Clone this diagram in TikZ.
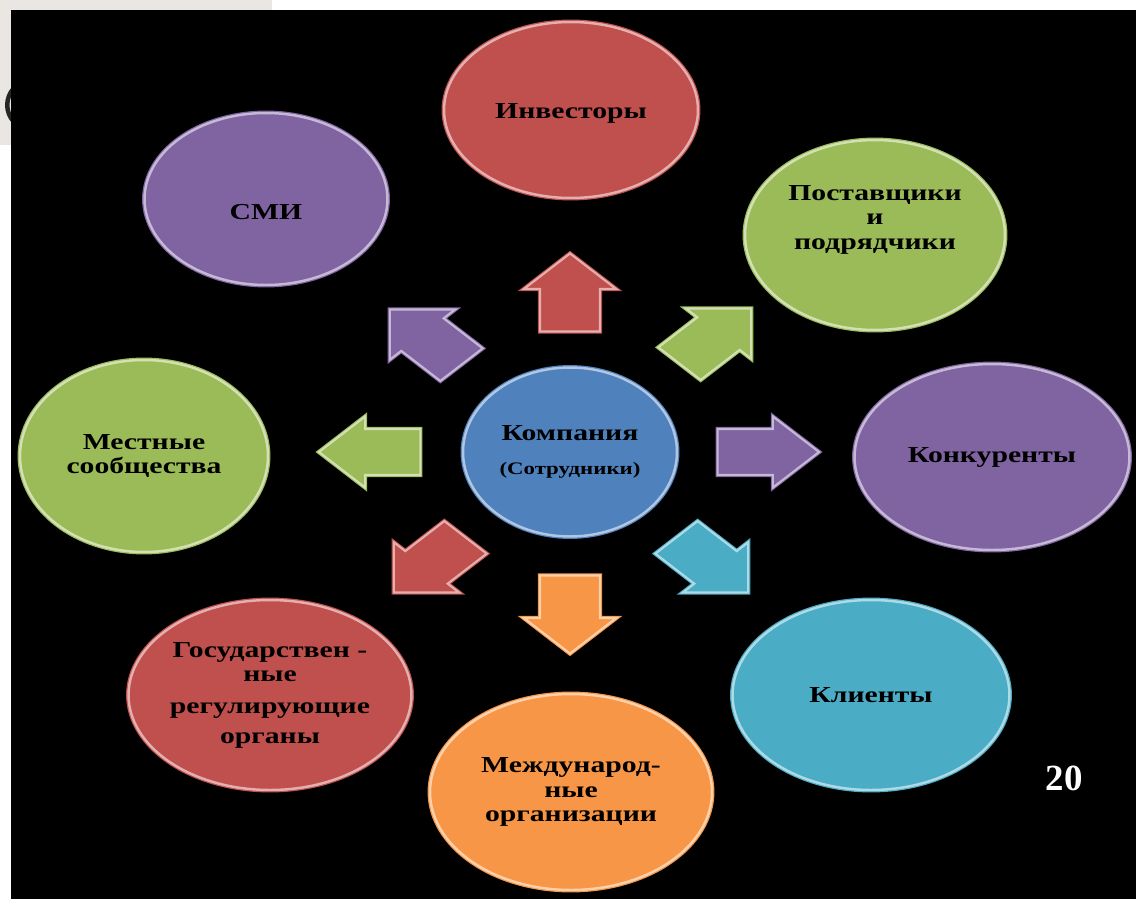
\documentclass[tikz,border=0pt]{standalone}
\usepackage{fontspec}
\usepackage{tikz}
\usetikzlibrary{shapes.geometric,shapes.arrows}
\newfontfamily\lbl{Liberation Serif}[FakeStretch=1.3]
\newfontfamily\numfont{Liberation Serif}
\definecolor{redA}{HTML}{C0504D}
\definecolor{greenA}{HTML}{9BBB59}
\definecolor{purpleA}{HTML}{8064A2}
\definecolor{cyanA}{HTML}{4BACC6}
\definecolor{orangeA}{HTML}{F79646}
\definecolor{blueA}{HTML}{4F81BD}
\definecolor{slidegray}{HTML}{EAE6E2}

\begin{document}
\begin{tikzpicture}[x=0.02cm,y=-0.02cm]
  \tikzset{bubble/.style={ellipse, fill=#1, draw=#1, double=#1!45!white, double distance=1.4pt,
      line width=0.7pt, inner sep=0pt, align=center, text=black,
      font=\lbl\bfseries\fontsize{13}{14}\selectfont},
    flowarrow/.style={single arrow, fill=#1, draw=#1, double=#1!45!white, double distance=1.2pt,
      line width=0.6pt, inner xsep=0pt, inner ysep=0.45cm, minimum height=1.56cm, minimum width=1.4cm,
      single arrow head extend=0.25cm, anchor=tail, xscale=1.3}}
  \useasboundingbox (0,0) rectangle (1136,899);
  \fill[white] (0,0) rectangle (1136,899);
  \fill[slidegray] (0,0) rectangle (272,145);
  \draw[black!85, line width=0.09cm] (14,88) .. controls (5,98) and (5,112) .. (14,122);
  \fill[black] (11,10) rectangle (1136,899);
  \node[bubble=redA, minimum width=5.08cm, minimum height=3.52cm, text height=12pt] (investors) at (571,110) {Инвесторы};
  \node[bubble=greenA, minimum width=5.2cm, minimum height=3.8cm, text depth=20pt] (suppliers) at (875,235) {Поставщики\\и\\подрядчики};
  \node[bubble=purpleA, minimum width=5.5cm, minimum height=3.72cm] (rivals) at (992,457) {Конкуренты};
  \node[bubble=cyanA, minimum width=5.54cm, minimum height=3.8cm] (clients) at (871,695) {Клиенты};
  \node[bubble=orangeA, minimum width=5.64cm, minimum height=3.92cm] (intl) at (571,792) {Международ-\\ные\\организации};
  \node[bubble=redA, minimum width=5.6cm, minimum height=3.8cm] (government) at (270,695) {Государствен -\\ные\\[4pt]регулирующие\\[3pt]органы};
  \node[bubble=greenA, minimum width=4.96cm, minimum height=3.84cm] (locals) at (144,456) {Местные\\сообщества};
  \node[bubble=purpleA, minimum width=4.86cm, minimum height=3.44cm, text height=24pt] (media) at (266,199) {СМИ};
  \node[bubble=blueA, minimum width=4.28cm, minimum height=3.38cm] (company) at (570,452)
    {Компания\\[5pt]{\fontsize{10}{12}\selectfont(Сотрудники)}};
  \node[flowarrow=redA, rotate=90] (toInvestors) at (570,332) {};
  \node[flowarrow=greenA, rotate=45] (toSuppliers) at (679,364) {};
  \node[flowarrow=purpleA, rotate=0] (toRivals) at (717,452) {};
  \node[flowarrow=cyanA, rotate=-45] (toClients) at (676,537) {};
  \node[flowarrow=orangeA, rotate=-90] (toIntl) at (570,575) {};
  \node[flowarrow=redA, rotate=-135] (toGovernment) at (466,537) {};
  \node[flowarrow=greenA, rotate=180] (toLocals) at (421,452) {};
  \node[flowarrow=purpleA, rotate=135] (toMedia) at (462,365) {};
  \node[text=white, font=\numfont\bfseries\fontsize{21}{24}\selectfont] (pagenum) at (1064,778) {20};
\end{tikzpicture}
\end{document}
